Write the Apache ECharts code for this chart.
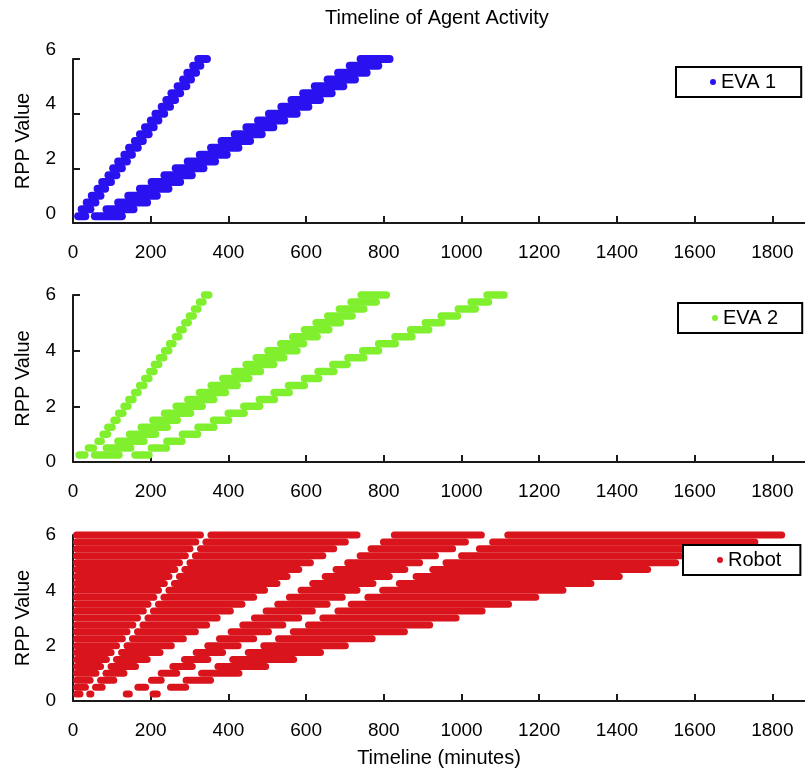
<!DOCTYPE html>
<html>
<head>
<meta charset="utf-8">
<title>Timeline of Agent Activity</title>
<script src="https://cdn.jsdelivr.net/npm/echarts@6.0.0/dist/echarts.min.js"></script>
<style>
  html, body { margin: 0; padding: 0; background: #fff; }
  #chart { width: 805px; height: 779px; }
</style>
</head>
<body>
<div id="chart"></div>
<script>
// RPP levels (one row of dashes per level, bottom to top)
var rppLevels = [0.25, 0.5, 0.75, 1, 1.25, 1.5, 1.75, 2, 2.25, 2.5, 2.75, 3,
  3.25, 3.5, 3.75, 4, 4.25, 4.5, 4.75, 5, 5.25, 5.5, 5.75, 6];
var xTicks = [0, 200, 400, 600, 800, 1000, 1200, 1400, 1600, 1800];

// EVA 1: [start, end] in minutes for each level
var eva1BandA = [[3, 42], [12, 55], [25, 68], [38, 81], [53, 93], [65, 108], [81, 122], [93, 136],
  [106, 149], [122, 162], [134, 177], [149, 190], [162, 205], [175, 218], [190, 230], [202, 245],
  [218, 260], [230, 273], [243, 286], [259, 302], [273, 314], [284, 327], [299, 338], [312, 355]];
var eva1BandB = [[46, 136], [76, 166], [106, 201], [132, 226], [162, 256], [192, 286], [225, 316], [254, 346],
  [285, 376], [316, 406], [345, 436], [372, 466], [406, 496], [436, 526], [466, 554], [494, 586],
  [526, 616], [552, 646], [582, 676], [612, 706], [645, 736], [672, 766], [702, 796], [730, 825]];

// EVA 2
var eva2BandA = [[6, 40], [30, 62], [55, 82], [68, 98], [80, 110], [96, 123], [108, 138], [122, 151],
  [134, 164], [149, 177], [162, 192], [175, 205], [188, 218], [200, 230], [213, 243], [226, 256],
  [239, 267], [254, 282], [265, 293], [278, 306], [290, 319], [303, 331], [316, 344], [329, 359]];
var eva2BandB = [[46, 128], [76, 158], [106, 192], [136, 222], [166, 252], [196, 278], [226, 312], [256, 342],
  [286, 372], [316, 402], [346, 432], [376, 462], [406, 492], [436, 526], [462, 552], [492, 586],
  [525, 603], [556, 638], [586, 668], [616, 698], [646, 728], [676, 758], [706, 790], [732, 816]];
var eva2BandC = [[150, 205], [192, 250], [232, 290], [272, 330], [312, 372], [352, 410], [390, 450], [430, 490],
  [470, 528], [508, 566], [545, 605], [586, 642], [621, 681], [659, 715], [698, 758], [736, 796],
  [777, 839], [819, 882], [859, 925], [897, 959], [938, 999], [982, 1045], [1015, 1079], [1056, 1119]];

// Robot: each row runs from 0 to robotEnd, broken by three idle gaps
var robotEnd = [226, 299, 363, 436, 505, 577, 646, 710, 779, 862, 927, 995,
  1062, 1130, 1200, 1270, 1342, 1415, 1488, 1560, 1630, 1700, 1764, 1833];
var robotGapA = [[27, 34], [41, 49], [53, 62], [68, 76], [80, 89], [95, 103], [107, 116], [121, 130],
  [136, 144], [148, 157], [163, 171], [175, 184], [190, 198], [202, 211], [217, 225], [229, 238],
  [244, 252], [256, 265], [271, 279], [283, 292], [298, 306], [310, 319], [325, 333], [337, 346]];
var robotGapB = [[55, 128], [84, 158], [114, 193], [140, 218], [170, 248], [200, 278], [233, 308], [262, 338],
  [293, 368], [324, 398], [353, 428], [380, 458], [414, 488], [444, 518], [474, 548], [502, 578],
  [534, 608], [560, 640], [590, 668], [620, 698], [652, 730], [680, 758], [710, 790], [740, 818]];
var robotGapC = [[154, 197], [196, 242], [236, 282], [276, 322], [316, 364], [356, 402], [394, 442], [434, 482],
  [474, 520], [512, 558], [549, 597], [590, 634], [625, 673], [663, 707], [702, 750], [740, 788],
  [781, 831], [823, 874], [863, 917], [901, 951], [942, 991], [986, 1037], [1019, 1071], [1060, 1110]];

var fontFamily = '"Liberation Sans", Arial, sans-serif';

function toRows(band) {
  return band.map(function (d, i) { return [rppLevels[i], d[0], d[1]]; });
}

function robotRows() {
  var out = [];
  rppLevels.forEach(function (lv, i) {
    var cuts = [0, robotGapA[i][0], robotGapA[i][1], robotGapB[i][0],
      robotGapB[i][1], robotGapC[i][0], robotGapC[i][1], robotEnd[i]];
    for (var j = 0; j < cuts.length; j += 2) {
      var e = Math.min(cuts[j + 1], robotEnd[i]);
      if (e > cuts[j]) out.push([lv, cuts[j], e]);
    }
  });
  return out;
}

// a dash = rounded bar from start to end at one level
function dash(h) {
  return function (params, api) {
    var a = api.coord([api.value(1), api.value(0)]);
    var b = api.coord([api.value(2), api.value(0)]);
    return {
      type: 'rect',
      shape: { x: a[0], y: a[1] - h / 2, width: Math.max(b[0] - a[0], h), height: h, r: h / 2 },
      style: { fill: api.visual('color') }
    };
  };
}

function xAxisFor(idx, name) {
  return {
    type: 'value', gridIndex: idx, min: 0, max: 1884,
    axisLine: { show: true, lineStyle: { color: '#1a1a1a', width: 2 } },
    axisTick: { show: true, inside: true, length: 7, customValues: xTicks, lineStyle: { color: '#1a1a1a', width: 2 } },
    axisLabel: {
      customValues: xTicks, fontSize: 19, color: '#000', margin: 20, fontFamily: fontFamily,
      formatter: function (v) { return String(v); }
    },
    splitLine: { show: false },
    name: name || '', nameLocation: 'middle', nameGap: 47,
    nameTextStyle: { fontSize: 20, color: '#000', fontFamily: fontFamily }
  };
}

function yAxisFor(idx, raised) {
  return {
    type: 'value', gridIndex: idx, min: 0, max: 6, interval: 2,
    axisLine: { show: true, lineStyle: { color: '#1a1a1a', width: 2 } },
    axisTick: { show: true, inside: true, length: 7, lineStyle: { color: '#1a1a1a', width: 2 } },
    axisLabel: {
      fontSize: 19, color: '#000', margin: 17, fontFamily: fontFamily,
      verticalAlign: raised ? 'bottom' : 'middle', lineHeight: 19
    },
    splitLine: { show: false },
    name: 'RPP Value', nameLocation: 'middle', nameGap: 40,
    nameTextStyle: { fontSize: 20, color: '#000', fontFamily: fontFamily }
  };
}

function legendFor(name, left, top, padRight) {
  return {
    data: [name], left: left, top: top,
    icon: 'circle', itemWidth: 6, itemHeight: 6,
    backgroundColor: '#fff', borderColor: '#000', borderWidth: 2,
    padding: [5, padRight, 5, 34], selectedMode: false,
    textStyle: { fontSize: 20, color: '#000', fontFamily: fontFamily }
  };
}

function band(name, color, data, axis, h) {
  return {
    name: name, type: 'custom', coordinateSystem: 'cartesian2d',
    xAxisIndex: axis, yAxisIndex: axis, silent: true,
    itemStyle: { color: color },
    encode: { x: [1, 2], y: 0 },
    renderItem: dash(h),
    data: data
  };
}

var chart = echarts.init(document.getElementById('chart'));

var option = {
  animation: false,
  backgroundColor: '#fff',
  title: {
    text: 'Timeline of Agent Activity', left: 325, top: 8, padding: 0,
    textStyle: { fontSize: 20, fontWeight: 'normal', color: '#000', fontFamily: fontFamily }
  },
  grid: [
    { left: 73, right: 0, top: 59, height: 164 },
    { left: 73, right: 0, top: 295, height: 167 },
    { left: 73, right: 0, top: 535, height: 166 }
  ],
  xAxis: [xAxisFor(0), xAxisFor(1), xAxisFor(2, 'Timeline (minutes)')],
  yAxis: [yAxisFor(0, true), yAxisFor(1), yAxisFor(2)],
  legend: [
    legendFor('EVA 1', 676, 67, 25),
    legendFor('EVA 2', 678, 303, 24),
    legendFor('Robot', 683, 545, 19)
  ],
  series: [
    band('EVA 1', '#2a12f0', toRows(eva1BandA).concat(toRows(eva1BandB)), 0, 8),
    band('EVA 2', '#80f02e', toRows(eva2BandA).concat(toRows(eva2BandB), toRows(eva2BandC)), 1, 7.5),
    band('Robot', '#d9141c', robotRows(), 2, 7)
  ]
};

chart.setOption(option);
window.addEventListener('resize', function () { chart.resize(); });
</script>
</body>
</html>
